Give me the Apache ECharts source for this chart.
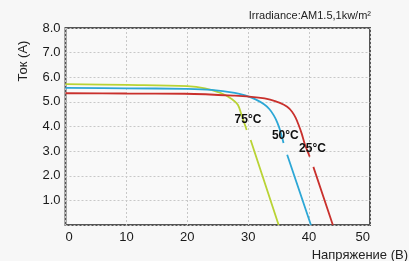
<!DOCTYPE html>
<html>
<head>
<meta charset="utf-8">
<script src="https://cdn.jsdelivr.net/npm/echarts@6/dist/echarts.min.js"></script>
<style>
    html, body { margin: 0; padding: 0; background: #f7f7f7; }
    #chart { width: 409px; height: 261px; }
</style>
</head>
<body>
<div id="chart"></div>
<script>
(function (window) {
    "use strict";

    // 电压 (V) / 电流 (A)，null 处为标签断开的位置
    var volt75 = [0, 10, 20, 22.9, 25.6, 27.3, 28.3, 28.9, 29.75, 30.1, 30.4, 35.0];
    var amp75 = [5.72, 5.69, 5.64, 5.55, 5.35, 5.12, 4.88, 4.47, 3.86, null, 3.45, 0];

    var volt50 = [0, 10, 19.6, 24, 27.8, 29.5, 31.2, 32.6, 33.5, 34.2, 34.8, 35.3, 35.8, 36.1, 36.4, 40.3];
    var amp50 = [5.57, 5.55, 5.53, 5.49, 5.37, 5.26, 5.1, 4.9, 4.7, 4.45, 4.15, 3.8, 3.33, null, 2.85, 0];

    var volt25 = [0, 10, 19.6, 27.8, 31.7, 33.6, 35.2, 36.4, 37.2, 37.8, 38.3, 38.8, 39.3, 40.1, 40.4, 40.7, 43.9];
    var amp25 = [5.35, 5.34, 5.33, 5.25, 5.17, 5.09, 4.96, 4.8, 4.6, 4.35, 4.05, 3.7, 3.28, 2.78, null, 2.36, 0];

    var curveNames = ['75°C', '50°C', '25°C'];
    var curveColors = ['#b9d334', '#2ca7d6', '#c9302c'];
    // 标签位置 [V, A]
    var labelPos = [[29.97, 4.27], [36.1, 3.63], [40.56, 3.08]];

    var xTicks = [0, 10, 20, 30, 40, 50];
    var yTicks = [1, 2, 3, 4, 5, 6, 7, 8];

    var font = '"Liberation Sans", Arial, sans-serif';

    var zip = function (xs, ys) {
        var out = [];
        for (var i = 0; i < xs.length; i++) {
            out.push([xs[i], ys[i]]);
        }
        return out;
    };

    var curves = [zip(volt75, amp75), zip(volt50, amp50), zip(volt25, amp25)];

    var series = curves.map(function (data, k) {
        return {
            name: curveNames[k],
            type: 'line',
            data: data,
            showSymbol: false,
            connectNulls: false,
            smooth: 0.35,
            lineStyle: { color: curveColors[k], width: 1.8 },
            itemStyle: { color: curveColors[k] },
            markPoint: {
                symbol: 'circle',
                symbolSize: 1,
                itemStyle: { color: 'transparent' },
                label: {
                    show: true,
                    position: 'inside',
                    formatter: curveNames[k],
                    color: '#111',
                    fontWeight: 'bold',
                    fontSize: 12,
                    fontFamily: font
                },
                data: [{ coord: labelPos[k] }]
            }
        };
    });

    var myChart = window.echarts.init(document.getElementById('chart'));
    var option = {
        backgroundColor: '#f7f7f7',
        animation: false,
        grid: {
            left: 65.5,
            right: 39,
            top: 28,
            bottom: 36,
            show: true,
            borderColor: '#555',
            borderWidth: 2,
            backgroundColor: '#f9f9f9'
        },
        xAxis: {
            type: 'value',
            min: xTicks[0],
            max: xTicks[xTicks.length - 1],
            interval: 10,
            axisLine: { show: false },
            axisTick: { show: false },
            splitLine: { lineStyle: { color: '#c8c8c8', type: [2, 2] } },
            axisLabel: {
                color: '#1a1a1a',
                fontSize: 13,
                fontFamily: font,
                margin: 6,
                alignMinLabel: 'left',
                alignMaxLabel: 'right'
            }
        },
        yAxis: {
            type: 'value',
            min: 0,
            max: yTicks[yTicks.length - 1],
            interval: 1,
            axisLine: { show: false },
            axisTick: { show: false },
            splitLine: { lineStyle: { color: '#c8c8c8', type: [2, 2] } },
            axisLabel: {
                color: '#1a1a1a',
                fontSize: 13,
                fontFamily: font,
                margin: 5,
                formatter: function (v) {
                    return v === 0 ? '' : v.toFixed(1);
                }
            }
        },
        graphic: [
            {
                type: 'text',
                x: 371,
                y: 16,
                style: {
                    text: 'Irradiance:AM1.5,1kw/m²',
                    fill: '#222',
                    font: '11px ' + font,
                    align: 'right',
                    verticalAlign: 'middle'
                }
            },
            {
                type: 'text',
                x: 408,
                y: 255,
                style: {
                    text: 'Напряжение (В)',
                    fill: '#222',
                    font: '13px ' + font,
                    align: 'right',
                    verticalAlign: 'middle'
                }
            },
            {
                type: 'text',
                x: 23,
                y: 61,
                rotation: Math.PI / 2,
                style: {
                    text: 'Ток (A)',
                    fill: '#222',
                    font: '13px ' + font,
                    align: 'center',
                    verticalAlign: 'middle'
                }
            }
        ],
        series: series
    };
    myChart.setOption(option);

})(window);
</script>
</body>
</html>
